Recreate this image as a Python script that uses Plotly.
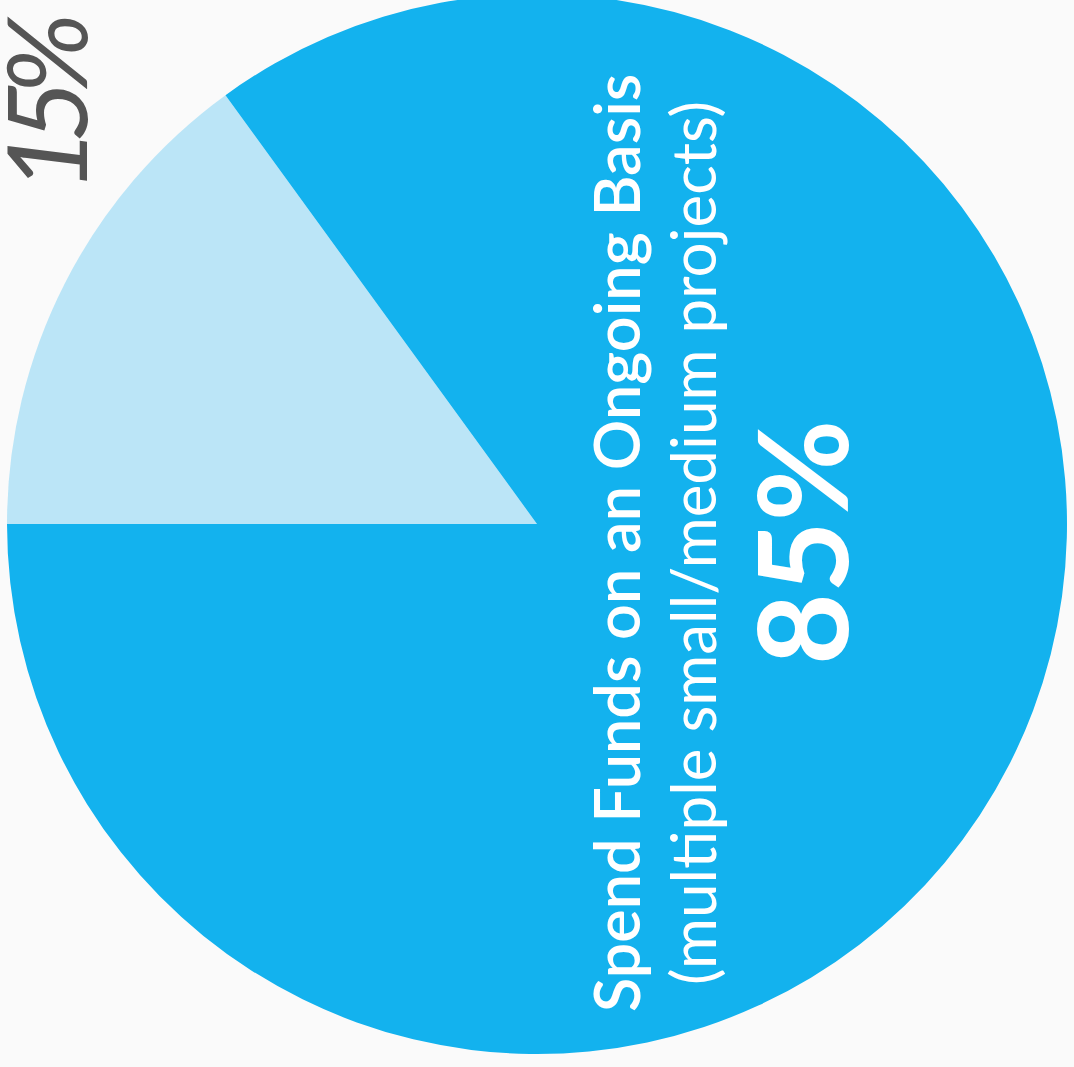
import plotly.graph_objects as go

labels = ["One-time Large Project", "Spend Funds on an Ongoing Basis (multiple small/medium projects)"]
values = [15, 85]
colors = ["#BBE5F7", "#13B2EE"]
pct_labels = ["15%", "85%"]
label_line1 = "Spend Funds on an Ongoing Basis"
label_line2 = "(multiple small/medium projects)"

W, H = 1074, 1067
SHIFT = 6  # page is shifted up by this many px

fig = go.Figure(go.Pie(
    labels=labels,
    values=values,
    sort=False,
    direction="clockwise",
    rotation=-90,
    marker=dict(colors=colors, line=dict(width=0)),
    textinfo="none",
    hoverinfo="label+percent",
    showlegend=False,
    domain=dict(x=[0, 1], y=[7 / H, 1]),
))

def px(x):
    return x / W

def py(y):
    return 1 - (y + SHIFT) / H

fig.add_annotation(
    x=px(615), y=py(543), xref="paper", yref="paper",
    text=f"<span style='font-weight:600'>{label_line1}</span>",
    textangle=-90, showarrow=False, xanchor="center", yanchor="middle",
    font=dict(family="Lato", size=63, color="#FFFFFF"),
)
fig.add_annotation(
    x=px(692), y=py(543), xref="paper", yref="paper",
    text=label_line2,
    textangle=-90, showarrow=False, xanchor="center", yanchor="middle",
    font=dict(family="Lato", size=62, color="#FFFFFF"),
)
fig.add_annotation(
    x=px(800), y=py(543), xref="paper", yref="paper",
    text=f"<b>{pct_labels[1]}</b>",
    textangle=-90, showarrow=False, xanchor="center", yanchor="middle",
    font=dict(family="Lato", size=124, color="#FFFFFF"),
)
fig.add_annotation(
    x=px(44), y=py(104), xref="paper", yref="paper",
    text=f"<i><span style='letter-spacing:-15px'>{pct_labels[0]}</span></i>",
    textangle=-90, showarrow=False, xanchor="center", yanchor="middle",
    font=dict(family="Lato", size=110, color="#555555"),
)

fig.update_layout(
    width=W, height=H,
    margin=dict(l=0, r=0, t=0, b=0),
    paper_bgcolor="#FAFAFA",
    plot_bgcolor="#FAFAFA",
)

post = (
    "document.body.style.margin='0';"
    "document.body.style.overflow='hidden';"
    "document.body.style.background='#FAFAFA';"
    "var gd=document.getElementById('{plot_id}');"
    "gd.style.marginTop='-" + str(SHIFT) + "px';"
)
fig.write_html("out.html", post_script=post, config={"displayModeBar": False})
